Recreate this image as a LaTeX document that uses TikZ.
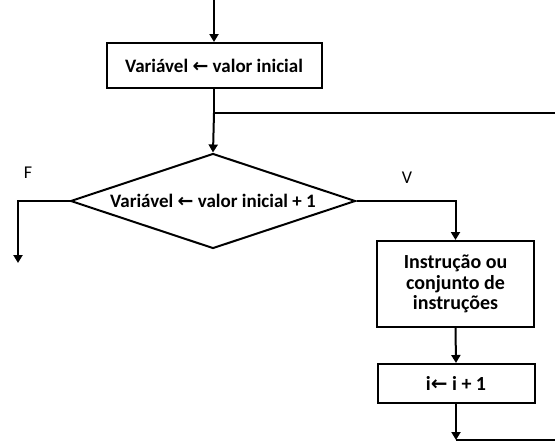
\documentclass[tikz,border=0pt]{standalone}
\usepackage{fontspec}
\setmainfont{Carlito}
\newfontfamily\arrowfont{DejaVu Sans}
\usetikzlibrary{arrows.meta,shapes.geometric}
\newcommand{\assign}{{\arrowfont\char"2190}}
\begin{document}
\begin{tikzpicture}[x=1pt,y=-1pt]
\tikzset{
  flow/.style={line width=2pt},
  arr/.style={flow,-{Triangle[length=8pt,width=9pt]}},
  procbox/.style={draw,line width=2pt,inner sep=0pt,align=center},
  decision/.style={diamond,draw,line width=2pt,inner sep=0pt,aspect=3},
  small/.style={font=\fontsize{19}{21}\selectfont\bfseries},
  large/.style={font=\fontsize{20}{20.5}\selectfont\bfseries},
  branch/.style={font=\fontsize{18}{19}\selectfont}
}
\useasboundingbox (0,0) rectangle (555,442);

% initialisation
\coordinate (start) at (214,0);
\node[procbox,small,minimum width=215pt,minimum height=45pt] (init) at (214,65.5)
  {Variável \assign{} valor inicial};
\draw[arr] (start) -- (init.north);

% loop return line joins here
\coordinate (join) at (214,113);
\coordinate (back) at (555,113);
\draw[flow] (init.south) -- (join);
\draw[flow] (join) -- (back);

% test
\node[decision,small,minimum width=285pt,minimum height=95pt] (test) at (213,201)
  {Variável \assign{} valor inicial + 1};
\draw[arr] (join) -- (test.north);

% false branch
\node[branch] (flbl) at (28,173) {F};
\coordinate (fcorner) at (18,201);
\coordinate (fend) at (18,263);
\draw[arr] (test.west) -- (fcorner) -- (fend);

% true branch
\node[branch] (vlbl) at (407,178) {V};
\coordinate (vcorner) at (455.5,201);
\node[procbox,large,minimum width=157pt,minimum height=86pt] (body) at (455.5,284)
  {Instrução ou\\conjunto de\\instruções};
\draw[arr] (test.east) -- (vcorner) -- (body.north);

% increment
\node[procbox,large,minimum width=157pt,minimum height=39pt] (incr) at (456,383.5)
  {i\assign{} i + 1};
\draw[arr] (body.south) -- (incr.north);

% back to the loop start
\coordinate (low) at (456,440);
\coordinate (lowright) at (555,440);
\draw[arr] (incr.south) -- (low);
\draw[flow] (low) -- (lowright);
\end{tikzpicture}
\end{document}
